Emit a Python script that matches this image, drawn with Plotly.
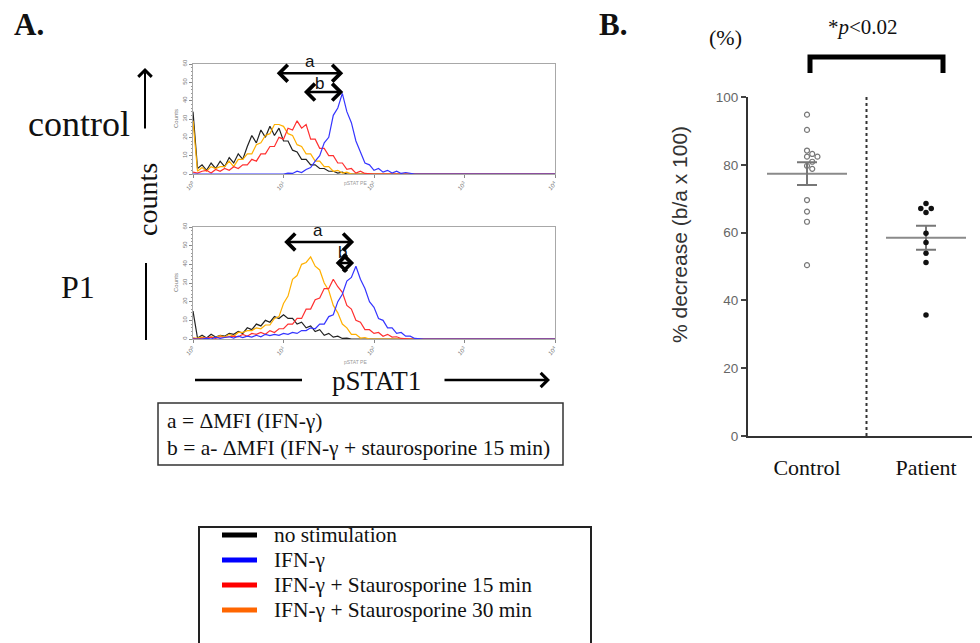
import math
import statistics
import plotly.graph_objects as go

W, H = 980, 643
OFF = 8  # page body margin of the rendered html
SERIF = "Liberation Serif"
SANS = "Liberation Sans"

# ---------------- data : flow histograms (counts per log10 bin) -------------
LOG_START = 0.0
LOG_STEP = 0.05
N_BINS = 81  # up to 10^4

CTRL_NOSTIM = [34, 3, 5, 2, 6, 3, 7, 4, 9, 6, 11, 8, 15, 21, 17, 24, 20, 26, 21, 25,
               18, 18, 13, 12, 8, 8, 5, 5, 3, 3, 1.5, 1.5, 0.5, 1, 0]
CTRL_IFN = [0, 0, 0, 0, 0, 0, 0, 0, 0, 0, 0, 0, 0, 0, 0, 0, 0, 0, 0, 0.3,
            0, 0.5, 0.3, 1.5, 0.8, 2.5, 3.5, 7, 10, 17, 20, 32, 36, 44, 34, 28, 18, 12, 6, 5,
            2, 3, 1, 2, 0.5, 1.5, 0.3, 0.8, 0.2, 0]
CTRL_ST15 = [1, 0.5, 1.5, 2, 0.5, 2.5, 1.5, 3, 2, 4, 3, 5, 5, 8, 7, 11, 11, 15, 15, 20,
             19, 25, 24, 29, 25, 27, 19, 19, 14, 14, 10, 10, 6, 6, 2.5, 3, 0.5, 1.5, 0.3]
CTRL_ST30 = [29, 1.5, 3.5, 1.5, 4, 3, 4, 4, 7, 4, 8, 8, 11, 11, 16, 17, 21, 22, 27, 27,
             26, 22, 21, 16, 15, 11, 11, 7, 7, 4, 4, 1.5, 2, 0.5, 1, 0]

P1_NOSTIM = [15, 0.5, 2, 0.5, 2.5, 1, 2, 1.5, 3, 2.5, 4, 3, 6, 5, 8, 7, 10, 9, 12, 11,
             13, 11, 11, 8, 9, 6, 7, 4, 5, 2, 3, 1, 1.5, 0.3, 0.5]
P1_IFN = [0, 0, 0, 0.5, 0, 1, 0.3, 0.8, 1.2, 0.5, 1.5, 0.8, 1.5, 1, 2, 1.2, 2.5, 1.8, 2.5, 2,
          3, 2.5, 3.5, 3, 4.5, 4.5, 6, 5.5, 8, 8, 12, 13, 20, 24, 31, 33, 39, 32, 27, 20,
          17, 11, 10, 6, 6, 3, 3.5, 1.5, 1.5, 0.3]
P1_ST15 = [0.5, 0, 0.5, 0.5, 1, 0.3, 1.2, 0.8, 1.2, 1.5, 1.2, 2.5, 1.5, 3, 2.5, 3.5, 2.5, 4.5, 3.5, 5.5,
           5.5, 8, 8, 11, 11, 16, 16, 21, 22, 27, 27, 32, 28, 25, 18, 16, 10, 9, 5, 5,
           3, 3.5, 1.5, 2.5, 1, 1.2, 0.3]
P1_ST30 = [0.5, 0.5, 1, 0.3, 1.2, 0.8, 1.8, 1, 2.5, 1.5, 3.5, 3.5, 4.5, 4.5, 6, 5.5, 7.5, 7.5, 11, 12,
           19, 23, 32, 34, 40, 41, 44, 39, 37, 30, 26, 18, 14, 8, 6, 2.5, 2.5, 0.5, 0.8]

# MFI values used for the a / b arrows: [no stimulation, IFN-g, IFN-g + stauro 15 min]
CTRL_MFI = [8.1, 45.7, 16.2]
P1_MFI = [9.8, 60.3, 36.3]

HIST_TICKS = [1, 10, 100, 1000, 10000]
HIST_TICKTEXT = ["10<sup>0</sup>", "10<sup>1</sup>", "10<sup>2</sup>", "10<sup>3</sup>", "10<sup>4</sup>"]

LEGEND_LABELS = ["no stimulation", "IFN-\u03b3", "IFN-\u03b3 + Staurosporine 15 min",
                 "IFN-\u03b3 + Staurosporine 30 min"]

# ---------------- data : panel B ------------------------------------------
GROUPS = ["Control", "Patient"]
CONTROL_VALUES = [94.8, 90.3, 84.2, 83.2, 82.4, 82.4, 80.9, 79.7, 78.8, 69.6, 66.2, 63.2, 50.4]
PATIENT_VALUES = [68.6, 67.1, 67.1, 65.9, 59.8, 57.1, 53.9, 51.2, 35.7]

# ---------------- styles --------------------------------------------------
CURVE_COLORS = ["#222222", "#ffb000", "#ff3030", "#3535ff"]   # nostim, 30, 15, IFN
LEGEND_COLORS = ["#000000", "#0000ff", "#ff0000", "#ff6600"]


def px(x):
    return (x - OFF) / W


def py(y):
    return 1 - (y - OFF) / H


def pad(vals):
    return list(vals) + [0] * (N_BINS - len(vals))


BIN_X = [10 ** (LOG_START + i * LOG_STEP) for i in range(N_BINS)]

fig = go.Figure()

hist_sets = [
    ("x", "y", [CTRL_NOSTIM, CTRL_ST30, CTRL_ST15, CTRL_IFN]),
    ("x2", "y2", [P1_NOSTIM, P1_ST30, P1_ST15, P1_IFN]),
]
for xa, ya, curves in hist_sets:
    for vals, col in zip(curves, CURVE_COLORS):
        fig.add_trace(go.Scatter(x=BIN_X, y=pad(vals), mode="lines",
                                 line=dict(color=col, width=1.2),
                                 xaxis=xa, yaxis=ya, showlegend=False,
                                 hoverinfo="skip"))

# ---------------- panel B traces -----------------------------------------
X_UNIT_PX = (926 - 807)          # px per category unit
Y_UNIT_PX = (436 - 97) / 100.0   # px per percent
DIAM = 5.5


def swarm(values, center):
    placed = []
    xs = []
    cands = [0]
    for n in range(1, 8):
        cands += [n, -n]
    for v in values:
        off = 0
        for c in cands:
            off = c * DIAM * 0.95
            if all((off - ox) ** 2 + ((v - ov) * Y_UNIT_PX) ** 2 >= DIAM ** 2 for ox, ov in placed):
                break
        placed.append((off, v))
        xs.append(center + off / X_UNIT_PX)
    return xs


for gi, vals in enumerate([CONTROL_VALUES, PATIENT_VALUES]):
    m = statistics.mean(vals)
    sem = statistics.stdev(vals) / math.sqrt(len(vals))
    half = 40 / X_UNIT_PX
    fig.add_trace(go.Scatter(x=[gi - half, gi + half], y=[m, m], mode="lines",
                             line=dict(color="#8a8a8a", width=2),
                             xaxis="x3", yaxis="y3", showlegend=False, hoverinfo="skip"))
    fig.add_trace(go.Scatter(x=[gi], y=[m], mode="markers",
                             marker=dict(size=1, color="rgba(0,0,0,0)"),
                             error_y=dict(type="data", array=[sem], visible=True,
                                          color="#777777", thickness=2, width=10),
                             xaxis="x3", yaxis="y3", showlegend=False, hoverinfo="skip"))

fig.add_trace(go.Scatter(x=swarm(CONTROL_VALUES, 0), y=CONTROL_VALUES, mode="markers",
                         marker=dict(symbol="circle-open", size=5, color="#777777",
                                     line=dict(width=1.2, color="#777777")),
                         xaxis="x3", yaxis="y3", showlegend=False))
fig.add_trace(go.Scatter(x=swarm(PATIENT_VALUES, 1), y=PATIENT_VALUES, mode="markers",
                         marker=dict(symbol="circle", size=5.5, color="#111111"),
                         xaxis="x3", yaxis="y3", showlegend=False))

# ---------------- axes ----------------------------------------------------
hist_x = dict(type="log", range=[0, 4], showline=True, mirror=True, linecolor="#a8a8a8",
              linewidth=1, ticks="outside", ticklen=3, tickcolor="#888",
              tickvals=HIST_TICKS, ticktext=HIST_TICKTEXT, tickangle=-45,
              tickfont=dict(size=6, color="#777", family=SANS),
              showgrid=False, zeroline=False, automargin=False)
hist_y = dict(range=[0, 60], dtick=10, showline=True, mirror=True, linecolor="#a8a8a8",
              linewidth=1, ticks="outside", ticklen=3, tickcolor="#888", tickangle=-90,
              tickfont=dict(size=6, color="#777", family=SANS),
              minor=dict(dtick=2, ticks="outside", ticklen=1.5, tickcolor="#999"),
              showgrid=False, zeroline=False, automargin=False)

fig.update_layout(
    width=W, height=H, margin=dict(l=0, r=0, t=0, b=0, autoexpand=False),
    paper_bgcolor="white", plot_bgcolor="white", showlegend=False,
    xaxis=dict(hist_x, domain=[px(193), px(555)], anchor="y"),
    yaxis=dict(hist_y, domain=[py(174), py(64)], anchor="x"),
    xaxis2=dict(hist_x, domain=[px(193), px(555)], anchor="y2"),
    yaxis2=dict(hist_y, domain=[py(339), py(227)], anchor="x2"),
    xaxis3=dict(domain=[px(748), px(980)], anchor="y3", range=[-59 / X_UNIT_PX, 1 + 54 / X_UNIT_PX],
                tickvals=[0, 1], ticktext=GROUPS, ticks="", showline=True, linewidth=2,
                linecolor="#333", tickfont=dict(family=SERIF, size=22, color="#111"),
                ticklabelstandoff=11, showgrid=False, zeroline=False, automargin=False),
    yaxis3=dict(domain=[py(436), py(97)], anchor="x3", range=[0, 100], dtick=20,
                ticks="outside", ticklen=5, tickwidth=1.5, tickcolor="#444",
                showline=True, linewidth=2, linecolor="#333",
                tickfont=dict(family=SANS, size=13.5, color="#666"),
                showgrid=False, zeroline=False, automargin=False),
)

# ---------------- annotations ---------------------------------------------
ann = []


def text(t, x, y, size, family=SERIF, color="#111", xanchor="center", angle=0, bold=False):
    if bold:
        t = "<b>" + t + "</b>"
    ann.append(dict(text=t, x=px(x), y=py(y), xref="paper", yref="paper",
                    xanchor=xanchor, yanchor="middle", showarrow=False, textangle=angle,
                    font=dict(family=family, size=size, color=color)))


text("A.", 12, 24, 31, xanchor="left", bold=True)
text("B.", 597, 24, 31, xanchor="left", bold=True)
text("control", 79, 124, 36)
text("P1", 78, 287, 32)
text("counts", 147, 200, 28, angle=-90)
text("pSTAT1", 376, 381, 27)
text("a = \u0394MFI (IFN-\u03b3)", 165, 421, 21.5, xanchor="left")
text("b = a- \u0394MFI (IFN-\u03b3 + staurosporine 15 min)", 165, 448, 21.5, xanchor="left")
for i, lab in enumerate(LEGEND_LABELS):
    text(lab, 272, 535 + 25 * i, 21.4, xanchor="left")
text("(%)", 725, 37, 22)
text("*<i>p</i>&lt;0.02", 863, 27, 21)
text("% decrease (b/a x 100)", 679, 235, 21, family=SANS, color="#333", angle=-90)
# small FACS-style labels
for yy in (183, 362):
    text("pSTAT PE", 355, yy, 5, family=SANS, color="#999")
for yy in (119, 283):
    text("Counts", 176, yy, 6, family=SANS, color="#777", angle=-90)
# a / b letters
text("a", 310, 61, 17, family=SANS)
text("b", 319, 84, 17, family=SANS)
text("a", 318, 231, 17, family=SANS)
text("b", 342, 253, 17, family=SANS)

# double-headed MFI arrows
arrow_specs = [
    ("x", "y", CTRL_MFI[0], CTRL_MFI[1], 55),
    ("x", "y", CTRL_MFI[2], CTRL_MFI[1], 44.7),
    ("x2", "y2", P1_MFI[0], P1_MFI[1], 52),
    ("x2", "y2", P1_MFI[2], P1_MFI[1], 40.7),
]
for xa, ya, lo, hi, yv in arrow_specs:
    ann.append(dict(text="", xref=xa, yref=ya, axref=xa, ayref=ya,
                    x=math.log10(hi), y=yv, ax=math.log10(lo), ay=yv,
                    showarrow=True, arrowhead=4, startarrowhead=4, arrowside="end+start",
                    arrowwidth=2.5, arrowsize=1.3, startarrowsize=1.3, arrowcolor="#000"))

# up arrow (counts) and right arrow (pSTAT1)
ann.append(dict(text="", xref="paper", yref="paper", x=px(145), y=py(68), ax=0, ay=62,
                showarrow=True, arrowhead=4, arrowwidth=2, arrowsize=1.3, arrowcolor="#000"))
ann.append(dict(text="", xref="paper", yref="paper", x=px(550), y=py(380), ax=-107, ay=0,
                showarrow=True, arrowhead=4, arrowwidth=2.5, arrowsize=1.1, arrowcolor="#000"))

fig.update_layout(annotations=ann)

# ---------------- shapes --------------------------------------------------
shapes = []


def pline(x0, y0, x1, y1, width=2, color="#000"):
    shapes.append(dict(type="line", xref="paper", yref="paper", x0=px(x0), y0=py(y0),
                       x1=px(x1), y1=py(y1), line=dict(color=color, width=width)))


pline(146, 263, 146, 340, 2)
pline(195, 380, 302, 380, 2.5)
shapes.append(dict(type="rect", xref="paper", yref="paper", x0=px(158), x1=px(563),
                   y0=py(403), y1=py(465), line=dict(color="#333", width=1.5)))
shapes.append(dict(type="rect", xref="paper", yref="paper", x0=px(199), x1=px(591),
                   y0=py(527), y1=py(680), line=dict(color="#222", width=2)))
for i, col in enumerate(LEGEND_COLORS):
    pline(222, 535 + 25 * i, 257, 535 + 25 * i, 5, col)
# significance bracket
shapes.append(dict(type="path", xref="paper", yref="paper",
                   path="M {:.5f},{:.5f} L {:.5f},{:.5f} L {:.5f},{:.5f} L {:.5f},{:.5f}".format(
                       px(810), py(73), px(810), py(57), px(943), py(57), px(943), py(73)),
                   line=dict(color="#000", width=5)))
# dotted separator
shapes.append(dict(type="line", xref="x3", yref="y3", x0=0.5, x1=0.5, y0=0, y1=100,
                   line=dict(color="#333", width=2, dash="dot")))
fig.update_layout(shapes=shapes)

fig.write_html("out.html")
